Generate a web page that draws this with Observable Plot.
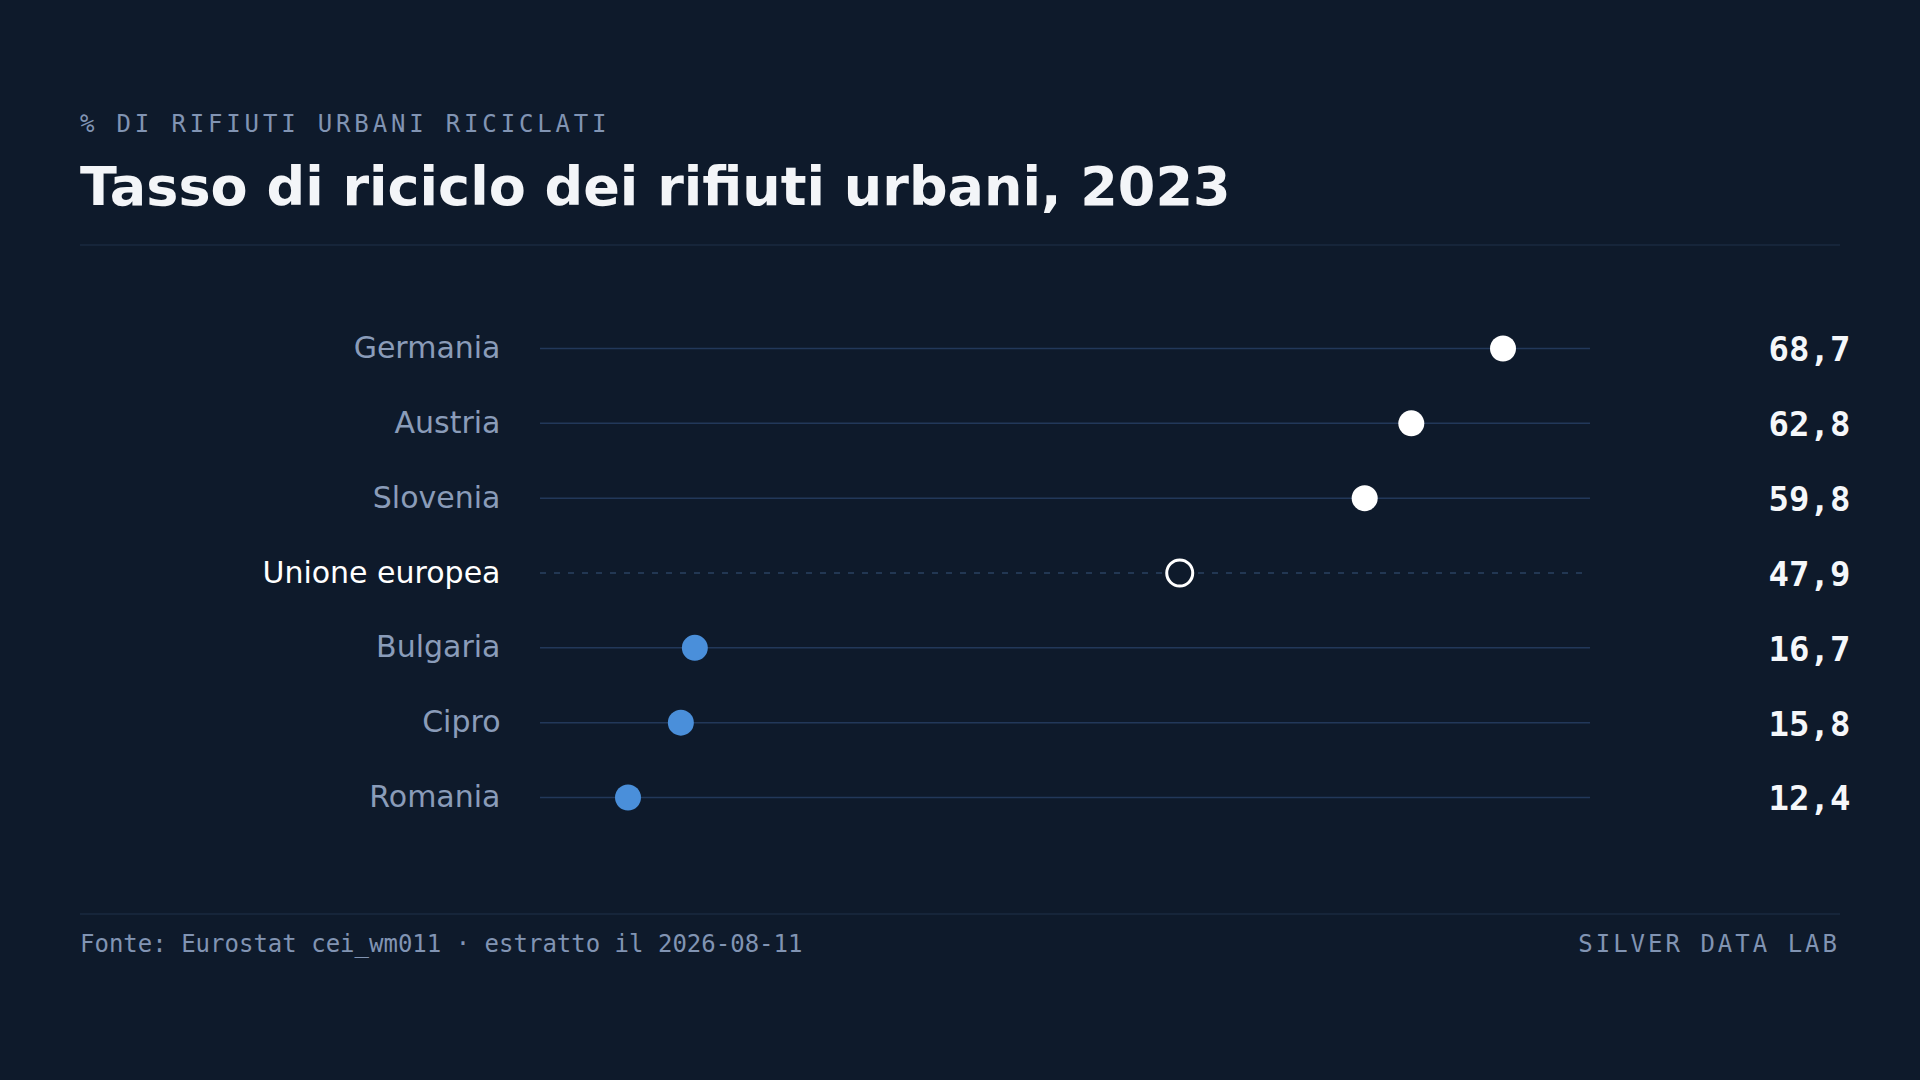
<!DOCTYPE html>
<html>
<head>
<meta charset="utf-8">
<script src="https://cdn.jsdelivr.net/npm/d3@7"></script>
<script src="https://cdn.jsdelivr.net/npm/@observablehq/plot@0.6"></script>
<style>
  html, body { margin: 0; padding: 0; }
  body { width: 1920px; height: 1080px; background: #0e1a2b; position: relative; overflow: hidden; }
  .abs { position: absolute; white-space: nowrap; }
  #kicker { left: 80px; top: 111.7px; font: 24px/24px "DejaVu Sans Mono", monospace; letter-spacing: 0.16em; color: #8194b3; }
  #title { left: 80px; top: 160.3px; font: bold 54px/54px "DejaVu Sans", sans-serif; color: #f3f5f8; }
  #rule-top { left: 80px; top: 244px; width: 1760px; height: 2px; background: #16253a; }
  #chart { left: 0; top: 300px; }
  #rule-bottom { left: 80px; top: 913px; width: 1760px; height: 2px; background: #16253a; }
  #source { left: 80px; top: 931.7px; font: 24px/24px "DejaVu Sans Mono", monospace; color: #8194b3; }
  #brand { right: 80px; top: 931.7px; font: 24px/24px "DejaVu Sans Mono", monospace; letter-spacing: 3px; color: #8194b3; }
</style>
</head>
<body>
<div class="abs" id="kicker">% DI RIFIUTI URBANI RICICLATI</div>
<div class="abs" id="title">Tasso di riciclo dei rifiuti urbani, 2023</div>
<div class="abs" id="rule-top"></div>
<div class="abs" id="chart"></div>
<div class="abs" id="rule-bottom"></div>
<div class="abs" id="source">Fonte: Eurostat cei_wm011 · estratto il 2026-08-11</div>
<div class="abs" id="brand">SILVER DATA LAB</div>
<script>
const countries = ["Germania", "Austria", "Slovenia", "Unione europea", "Bulgaria", "Cipro", "Romania"];
const rates = [68.7, 62.8, 59.8, 47.9, 16.7, 15.8, 12.4];
const euName = "Unione europea";

const euValue = rates[countries.indexOf(euName)];
const rows = countries.map((name, i) => ({name, value: rates[i], eu: name === euName}));
const others = rows.filter(d => !d.eu);
const euRows = rows.filter(d => d.eu);

const ext = d3.extent(rates);
const pad = (ext[1] - ext[0]) * 0.1;

const fmt = v => v.toFixed(1).replace(".", ",");

const chart = Plot.plot({
  width: 1920,
  height: 545,
  marginLeft: 540,
  marginRight: 330,
  marginTop: 48,
  marginBottom: 48,
  style: {background: "transparent", overflow: "visible"},
  x: {domain: [ext[0] - pad, ext[1] + pad], axis: null},
  y: {type: "point", domain: countries, padding: 0, round: false, axis: null},
  marks: [
    Plot.ruleY(others, {y: "name", stroke: "#22385a", strokeWidth: 1.5}),
    Plot.ruleY(euRows, {y: "name", stroke: "#2a4161", strokeWidth: 1.5, strokeDasharray: "6,8"}),
    Plot.dot(others, {
      x: "value", y: "name", r: 13,
      fill: d => d.value > euValue ? "#ffffff" : "#4a8fda",
      stroke: "none"
    }),
    Plot.dot(euRows, {x: "value", y: "name", r: 13, fill: "#0e1a2b", stroke: "#ffffff", strokeWidth: 3}),
    Plot.text(rows, {
      y: "name", text: "name", frameAnchor: "left", dx: -40, textAnchor: "end",
      fontFamily: "DejaVu Sans", fontSize: 30,
      fill: d => d.eu ? "#ffffff" : "#8a9cb9"
    }),
    Plot.text(rows, {
      y: "name", text: d => fmt(d.value), frameAnchor: "right", dx: 260, dy: 2, textAnchor: "end",
      fontFamily: "DejaVu Sans Mono", fontWeight: "bold", fontSize: 34,
      fill: "#f5f7fa"
    })
  ]
});
document.getElementById("chart").appendChild(chart);
</script>
</body>
</html>
